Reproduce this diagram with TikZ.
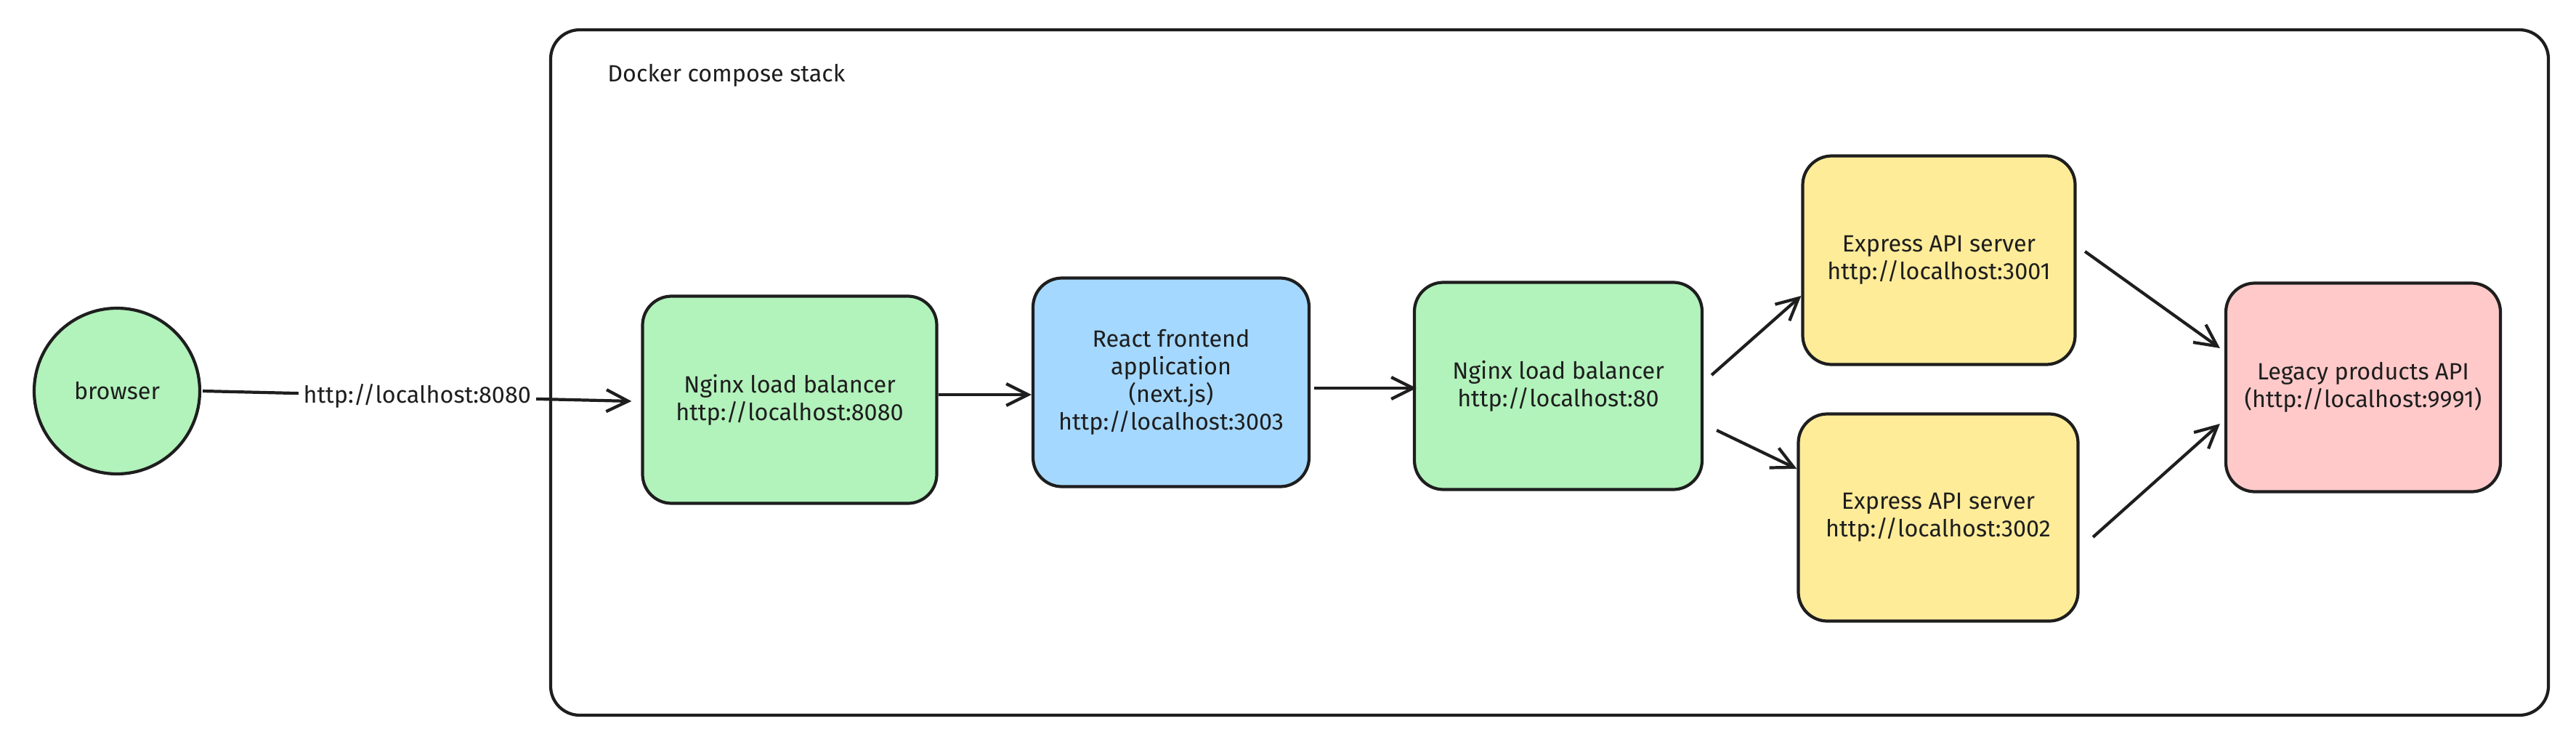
\documentclass[tikz,border=0pt]{standalone}
\usepackage{fontspec}
\setmainfont{Fira Sans}
\usepackage{tikz}
\usetikzlibrary{calc}
\usetikzlibrary{positioning}
\usetikzlibrary{arrows.meta}

\definecolor{ink}{HTML}{1E1E1E}
\definecolor{nginxgreen}{HTML}{B2F2BB}
\definecolor{reactblue}{HTML}{A5D8FF}
\definecolor{expressyellow}{HTML}{FFEC99}
\definecolor{legacyred}{HTML}{FFC9C9}

\begin{document}
\begin{tikzpicture}[
    every node/.style={font=\fontsize{9.2}{10.8}\selectfont, text=ink},
    svc/.style={draw=ink, line width=1.2pt, rounded corners=0.4cm,
        align=center, inner sep=0pt},
    link/.style={draw=ink, line width=1.2pt,
        -{Straight Barb[length=0.3cm, width=0.3cm]}}
]

        \useasboundingbox (0, 0) rectangle (35.46, -10.24);

        % Compose stack frame and its caption
        \node (S) [svc, minimum width=27.5cm, minimum height=9.43cm]
        at (21.33, -5.125) {};
        \node (SL) [anchor=west] at (8.24, -1.04) {Docker compose stack};

        % Services, in px/100 of the reference
        \node (B) [draw=ink, line width=1.2pt, fill=nginxgreen, circle,
        minimum size=2.28cm] at (1.61, -5.38) {browser};
        \node (N1) [svc, fill=nginxgreen, minimum width=4.05cm,
        minimum height=2.85cm] at (10.87, -5.50)
        {Nginx load balancer\\http://localhost:8080};
        \node (R) [svc, fill=reactblue, minimum width=3.8cm,
        minimum height=2.87cm] at (16.12, -5.26)
        {React frontend\\application\\(next.js)\\http://localhost:3003};
        \node (N2) [svc, fill=nginxgreen, minimum width=3.96cm,
        minimum height=2.85cm] at (21.45, -5.31)
        {Nginx load balancer\\http://localhost:80};
        \node (E1) [svc, fill=expressyellow, minimum width=3.75cm,
        minimum height=2.87cm] at (26.69, -3.58)
        {Express API server\\http://localhost:3001};
        \node (E2) [svc, fill=expressyellow, minimum width=3.85cm,
        minimum height=2.85cm] at (26.68, -7.12)
        {Express API server\\http://localhost:3002};
        \node (L) [svc, fill=legacyred, minimum width=3.78cm,
        minimum height=2.87cm] at (32.53, -5.33)
        {Legacy products API\\(http://localhost:9991)};

        \begin{scope}[link]
            \draw ([xshift=0.02cm]B.east) --
            node[fill=white, inner xsep=2pt] {http://localhost:8080}
            ([xshift=-0.13cm, yshift=-0.02cm]N1.west);

            \draw ([yshift=0.07cm]N1.east) --
            ([yshift=0.07cm]N1.east -| R.west);
            \draw ([shift={(0.05, -0.08)}]R.east) --
            ([shift={(0.05, -0.08)}]R.east -| N2.west);

            \draw ([shift={(0.11, 0.15)}]N2.east) --
            ([yshift=-0.49cm]E1.west);
            \draw ([shift={(0.18, -0.61)}]N2.east) --
            ([yshift=0.67cm]E2.west);

            \draw ([shift={(0.115, 0.12)}]E1.east) --
            ([shift={(-0.06, 0.54)}]L.west);
            \draw ([shift={(0.185, -0.27)}]E2.east) --
            ([shift={(-0.06, -0.50)}]L.west);
        \end{scope}

\end{tikzpicture}
\end{document}
